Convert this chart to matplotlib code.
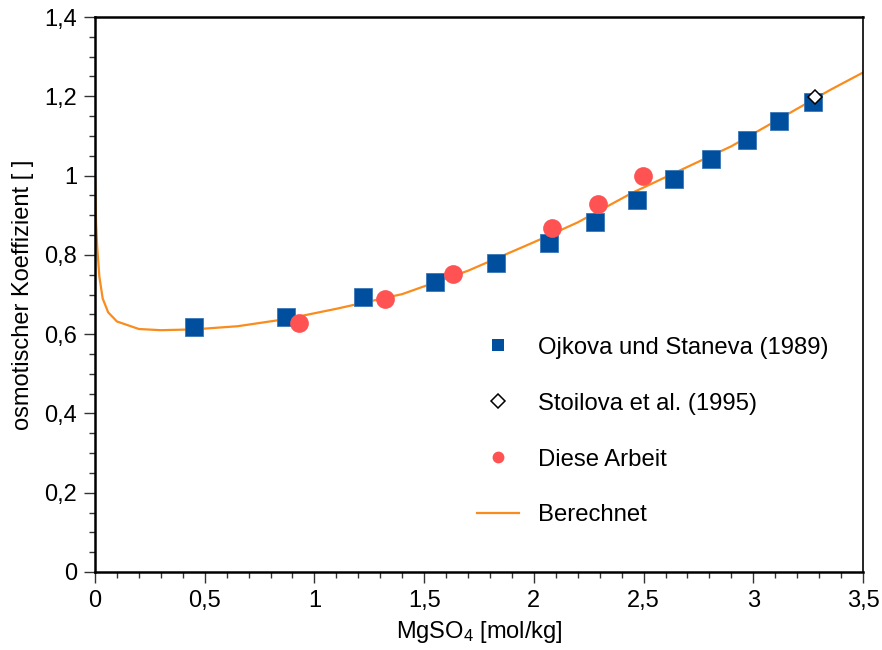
import matplotlib
matplotlib.use("Agg")
import matplotlib.pyplot as plt
from matplotlib.lines import Line2D
from matplotlib.ticker import MultipleLocator, FuncFormatter

plt.rcParams["font.family"] = ["Liberation Sans", "DejaVu Sans"]
plt.rcParams["mathtext.default"] = "regular"

# Ojkova und Staneva (1989)
ojkova_m = [0.451, 0.871, 1.220, 1.550, 1.828, 2.070, 2.279, 2.470, 2.639, 2.809, 2.969, 3.119, 3.273]
ojkova_phi = [0.619, 0.644, 0.693, 0.732, 0.779, 0.830, 0.884, 0.938, 0.992, 1.041, 1.090, 1.138, 1.185]

# Stoilova et al. (1995)
stoilova_m = [3.279]
stoilova_phi = [1.198]

# Diese Arbeit
eigen_m = [0.931, 1.322, 1.630, 2.084, 2.294, 2.499]
eigen_phi = [0.627, 0.688, 0.751, 0.868, 0.929, 0.999]

# Berechnet
calc_m = [0.0, 0.005, 0.01, 0.02, 0.035, 0.06, 0.1, 0.2, 0.3, 0.45, 0.65, 0.87,
          1.1, 1.4, 1.7, 2.0, 2.2, 2.45, 2.9, 3.35, 3.5]
calc_phi = [1.0, 0.88, 0.82, 0.745, 0.69, 0.655, 0.632, 0.613, 0.610, 0.612, 0.620, 0.638,
            0.664, 0.701, 0.760, 0.832, 0.882, 0.957, 1.074, 1.216, 1.260]

BLUE = "#004f9f"
RED = "#ff5252"
ORANGE = "#f98c1c"

fig = plt.figure(figsize=(8.82, 6.5), dpi=100)
ax = fig.add_axes([0.1077, 0.12, 0.8708, 0.8538])

ax.plot(calc_m, calc_phi, "-", color=ORANGE, lw=1.6, zorder=2)
ax.plot(ojkova_m, ojkova_phi, "s", color=BLUE, ms=12.5, mec="#3a78b8", mew=0.6, zorder=3)
ax.plot(eigen_m, eigen_phi, "o", color=RED, ms=13.5, mew=0, zorder=4)
ax.plot(stoilova_m, stoilova_phi, "D", mfc="white", mec="black", ms=7, mew=1.1, zorder=5)

ax.set_xlim(0, 3.5)
ax.set_ylim(0, 1.4)
ax.xaxis.set_major_locator(MultipleLocator(0.5))
ax.xaxis.set_minor_locator(MultipleLocator(0.1))
ax.yaxis.set_major_locator(MultipleLocator(0.2))
ax.yaxis.set_minor_locator(MultipleLocator(0.05))

comma = FuncFormatter(lambda v, pos: ("%g" % round(v, 3)).replace(".", ","))
ax.xaxis.set_major_formatter(comma)
ax.yaxis.set_major_formatter(comma)

ax.tick_params(which="both", direction="out", top=False, right=False,
               labelsize=17, width=1.0, colors="#333333", labelcolor="black")
ax.tick_params(which="major", length=8, pad=5)
ax.tick_params(which="minor", length=4.3)

for side in ["left", "bottom", "top"]:
    ax.spines[side].set_linewidth(1.8)
ax.spines["right"].set_linewidth(1.2)

ax.set_xlabel("MgSO$_4$ [mol/kg]", fontsize=17, labelpad=5)
ax.set_ylabel("osmotischer Koeffizient [ ]", fontsize=17, labelpad=7)

handles = [
    Line2D([], [], ls="none", marker="s", color=BLUE, ms=8.5, mew=0),
    Line2D([], [], ls="none", marker="D", mfc="white", mec="black", ms=7, mew=1.1),
    Line2D([], [], ls="none", marker="o", color=RED, ms=8.5, mew=0),
    Line2D([], [], color=ORANGE, lw=1.6),
]
labels = ["Ojkova und Staneva (1989)", "Stoilova et al. (1995)", "Diese Arbeit", "Berechnet"]
ax.legend(handles, labels, loc="upper left", bbox_to_anchor=(0.497, 0.424),
          frameon=False, fontsize=17.2, handlelength=1.76, handletextpad=0.79,
          labelspacing=1.42, borderpad=0, borderaxespad=0)

fig.savefig("out.png", dpi=100)
